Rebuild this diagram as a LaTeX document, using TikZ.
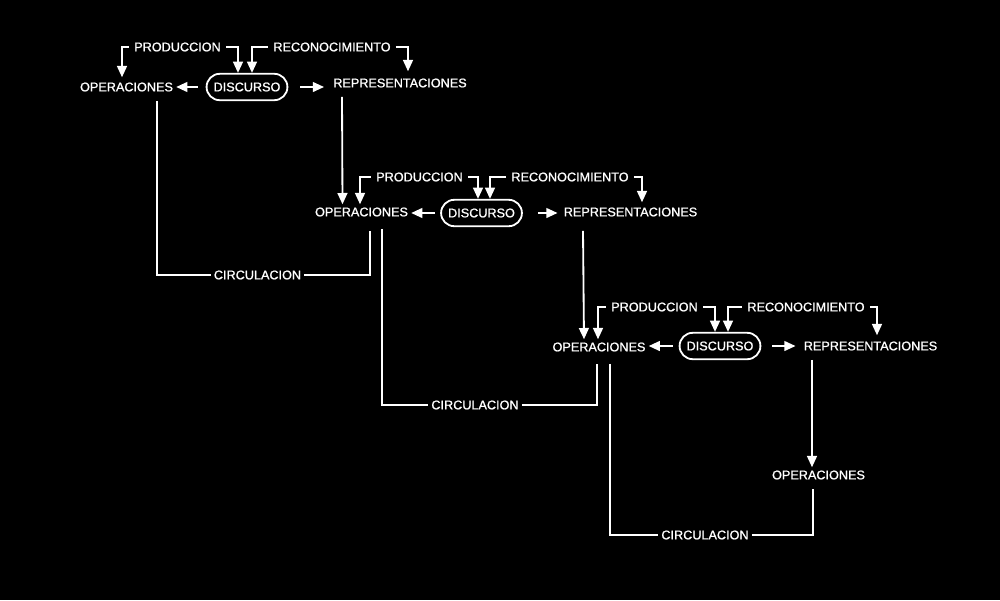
\documentclass[tikz,border=0pt]{standalone}
\usepackage{fontspec}
\setmainfont{Liberation Sans}
\newfontfamily\lblfont[FakeBold=1]{Liberation Sans}
\usetikzlibrary{arrows.meta,calc}
\begin{document}
\begin{tikzpicture}[x=0.025cm,y=-0.025cm,
  lbl/.style={text=white,font=\lblfont\fontsize{9}{10}\selectfont,inner sep=0.075cm},
  disc/.style={lbl,draw=white,line width=1.3pt,minimum width=2.02cm,minimum height=0.66cm,rounded corners=0.33cm,inner sep=0pt},
  wire/.style={draw=white,line width=1.3pt},
  arr/.style={wire,-{Triangle[length=8pt,width=7pt]}}]
\fill[black] (0,0) rectangle (1000,600);
\useasboundingbox (0,0) rectangle (1000,600);
% ---------- block 1
\node[lbl] (ops1) at (126.5,87) {OPERACIONES};
\node[disc] (disc1) at (247,87) {DISCURSO};
\node[lbl] (repr1) at (400,83) {REPRESENTACIONES};
\node[lbl] (prod1) at (177.5,47) {PRODUCCION};
\node[lbl] (rec1) at (332,47) {RECONOCIMIENTO};
\node[lbl] (circ1) at (257.5,275) {CIRCULACION};
% ---------- block 2
\node[lbl] (ops2) at (361.5,212) {OPERACIONES};
\node[disc] (disc2) at (481.5,213) {DISCURSO};
\node[lbl] (repr2) at (630.5,212) {REPRESENTACIONES};
\node[lbl] (prod2) at (419.5,177) {PRODUCCION};
\node[lbl] (rec2) at (570,177) {RECONOCIMIENTO};
\node[lbl] (circ2) at (475,405) {CIRCULACION};
% ---------- block 3
\node[lbl] (ops3) at (599,347) {OPERACIONES};
\node[disc] (disc3) at (720,346) {DISCURSO};
\node[lbl] (repr3) at (870.5,346) {REPRESENTACIONES};
\node[lbl] (prod3) at (654.5,307) {PRODUCCION};
\node[lbl] (rec3) at (806,307) {RECONOCIMIENTO};
\node[lbl] (circ3) at (705,535) {CIRCULACION};
\node[lbl] (ops4) at (818.5,475) {OPERACIONES};
% ---------- connectors block 1
\draw[arr] ($(prod1.west)+(-2,0)$) -| ($(ops1.north)+(-4.5,-2)$);
\draw[arr] ($(prod1.east)+(2,0)$) -| ($(disc1.north)+(-9,0)$);
\draw[arr] ($(rec1.west)+(-2,0)$) -| ($(disc1.north)+(5,0)$);
\draw[arr] ($(rec1.east)+(2,0)$) -| ($(repr1.north)+(8,-4)$);
\draw[arr] ($(disc1.west)+(-8,0)$) -- (ops1.east |- disc1.west);
\draw[arr] ($(disc1.east)+(12,0)$) -- ($(repr1.west |- disc1.east)+(-6,0)$);
\draw[arr] ($(repr1.south)+(-58,6)$) -- ($(ops2.north)+(-19,0)$);
\draw[wire] ($(ops1.south)+(30.5,6)$) |- (circ1.west);
\draw[wire] (circ1.east) -| ($(ops2.south)+(8.5,11)$);
% ---------- connectors block 2
\draw[arr] ($(prod2.west)+(-2,0)$) -| ($(ops2.north)+(-1.5,0)$);
\draw[arr] ($(prod2.east)+(2,0)$) -| ($(disc2.north)+(-3.5,0)$);
\draw[arr] ($(rec2.west)+(-2,0)$) -| ($(disc2.north)+(8.5,0)$);
\draw[arr] ($(rec2.east)+(2,0)$) -| ($(repr2.north)+(11.5,-2)$);
\draw[arr] ($(disc2.west)+(-5,0)$) -- (ops2.east |- disc2.west);
\draw[arr] ($(disc2.east)+(15,0)$) -- ($(repr2.west |- disc2.east)+(-3,0)$);
\draw[arr] ($(repr2.south)+(-47.5,11)$) -- ($(ops3.north)+(-15,0)$);
\draw[wire] ($(ops2.south)+(20.5,9)$) |- (circ2.west);
\draw[wire] (circ2.east) -| ($(ops3.south)+(-2,9)$);
% ---------- connectors block 3
\draw[arr] ($(prod3.west)+(-2,0)$) -| ($(ops3.north)+(-1,0)$);
\draw[arr] ($(prod3.east)+(2,0)$) -| ($(disc3.north)+(-5,0)$);
\draw[arr] ($(rec3.west)+(-2,0)$) -| ($(disc3.north)+(8,0)$);
\draw[arr] ($(rec3.east)+(2,0)$) -| ($(repr3.north)+(6.5,-3)$);
\draw[arr] ($(disc3.west)+(-6,0)$) -- (ops3.east |- disc3.west);
\draw[arr] ($(disc3.east)+(11,0)$) -- ($(repr3.west |- disc3.east)+(-5,0)$);
\draw[arr] ($(repr3.south)+(-58.5,6)$) -- ($(ops4.north)+(-6.5,0)$);
\draw[wire] ($(ops3.south)+(11,9)$) |- (circ3.west);
\draw[wire] (circ3.east) -| ($(ops4.south)+(-5.5,6)$);
\end{tikzpicture}
\end{document}
